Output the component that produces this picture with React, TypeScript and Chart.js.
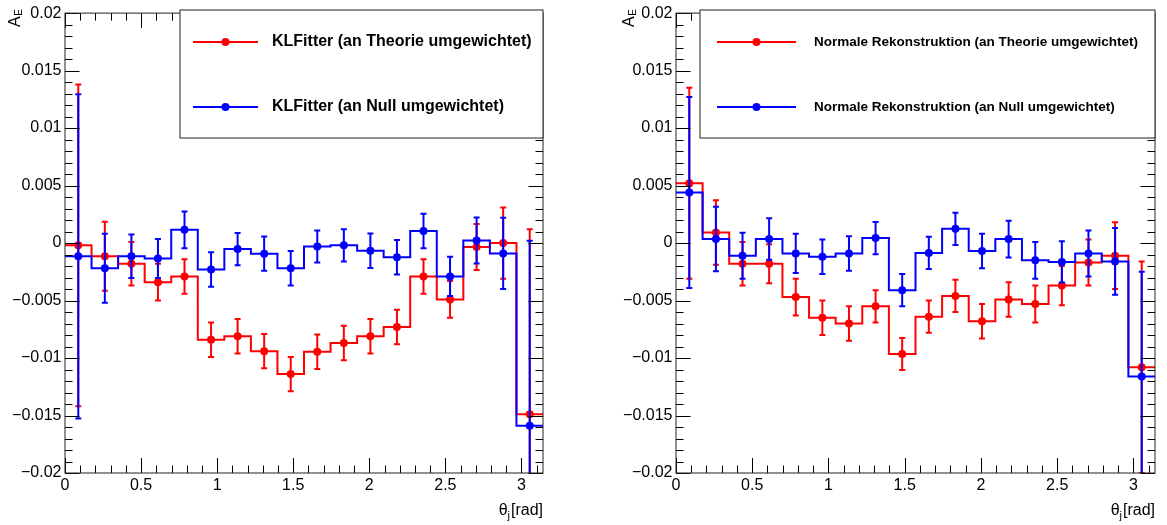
import React, { useEffect, useRef } from "react";
import { Chart, registerables } from "chart.js";

Chart.register(...registerables);

const FONT = '"Liberation Sans", Arial, Helvetica, sans-serif';

// ---- binning (18 equal bins on [0, pi]) ----
const N_BINS = 18;
const X_MIN = 0;
const X_MAX = Math.PI;
const BIN_EDGES = Array.from({ length: N_BINS + 1 }, (_, i) => X_MIN + ((X_MAX - X_MIN) * i) / N_BINS);
const BIN_CENTERS = BIN_EDGES.slice(0, N_BINS).map((e, i) => (e + BIN_EDGES[i + 1]) / 2);

// ---- tick labels ----
const X_TICKS = [0, 0.5, 1, 1.5, 2, 2.5, 3];
const X_TICK_LABELS = ["0", "0.5", "1", "1.5", "2", "2.5", "3"];
const Y_TICKS = [-0.02, -0.015, -0.01, -0.005, 0, 0.005, 0.01, 0.015, 0.02];
const Y_TICK_LABELS = ["\u22120.02", "\u22120.015", "\u22120.01", "\u22120.005", "0", "0.005", "0.01", "0.015", "0.02"];
const Y_MIN = -0.02;
const Y_MAX = 0.02;

// ---- left panel: KLFitter ----
const KLF_THEORIE = [-0.0002, -0.00115, -0.0018, -0.0034, -0.0029, -0.0084, -0.0081, -0.0094, -0.0114, -0.00945, -0.0087, -0.0081, -0.0073, -0.0029, -0.0049, -0.00035, 0.0, -0.0149];
const KLF_THEORIE_ERR = [0.014, 0.003, 0.0019, 0.0016, 0.0015, 0.0015, 0.0015, 0.0015, 0.0015, 0.0015, 0.0015, 0.0015, 0.0015, 0.0015, 0.0016, 0.002, 0.0031, 0.0161];
const KLF_NULL = [-0.00115, -0.0022, -0.00115, -0.00135, 0.00115, -0.0023, -0.00052, -0.00092, -0.0022, -0.0003, -0.0002, -0.00066, -0.00124, 0.00104, -0.0029, 0.00023, -0.0009, -0.0159];
const KLF_NULL_ERR = [0.0141, 0.003, 0.0019, 0.0017, 0.0016, 0.0015, 0.0014, 0.0015, 0.0015, 0.0014, 0.0014, 0.0015, 0.0015, 0.0015, 0.0017, 0.002, 0.0031, 0.0161];

// ---- right panel: Normale Rekonstruktion ----
const NR_THEORIE = [0.0052, 0.00092, -0.0018, -0.0018, -0.0047, -0.0065, -0.007, -0.0055, -0.00965, -0.0064, -0.0046, -0.0068, -0.0049, -0.0053, -0.0037, -0.0017, -0.0011, -0.0108];
const NR_THEORIE_ERR = [0.0083, 0.0028, 0.0019, 0.0017, 0.0016, 0.0015, 0.0015, 0.0014, 0.0014, 0.0014, 0.0014, 0.0015, 0.0015, 0.0016, 0.0017, 0.002, 0.0029, 0.0092];
const NR_NULL = [0.0044, 0.00035, -0.0011, 0.00035, -0.0009, -0.0012, -0.0009, 0.00043, -0.0041, -0.00086, 0.00124, -0.0007, 0.00035, -0.0015, -0.00164, -0.0009, -0.0016, -0.0116];
const NR_NULL_ERR = [0.0083, 0.0028, 0.002, 0.0018, 0.0017, 0.0015, 0.0015, 0.0014, 0.0014, 0.0014, 0.0014, 0.0015, 0.0016, 0.0016, 0.0018, 0.002, 0.0029, 0.0091];

const LEFT_LABELS = ["KLFitter (an Theorie umgewichtet)", "KLFitter (an Null umgewichtet)"];
const RIGHT_LABELS = ["Normale Rekonstruktion (an Theorie umgewichtet)", "Normale Rekonstruktion (an Null umgewichtet)"];

const Y_TITLE = ["A", "E"];
const X_TITLE = ["\u03b8", "j", "[rad]"];

const RED = "#ff0000";
const BLUE = "#0000ff";

type Series = { label: string; values: number[]; errors: number[]; color: string };

type PanelCfg = {
  left: number;
  width: number;
  axisWidth: number;
  padRight: number;
  yTitleX: number;
  legend: { x0: number; x1: number; y0: number; y1: number; lineX0: number; lineX1: number; textX: number; rows: number[]; fontSize: number };
};

const LEFT_CFG: PanelCfg = {
  left: 0,
  width: 583,
  axisWidth: 65,
  padRight: 40,
  yTitleX: 20,
  legend: { x0: 180, x1: 543, y0: 10, y1: 138, lineX0: 193, lineX1: 258, textX: 272, rows: [42, 107], fontSize: 16 },
};

const RIGHT_CFG: PanelCfg = {
  left: 583,
  width: 584,
  axisWidth: 93,
  padRight: 12,
  yTitleX: 51,
  legend: { x0: 117, x1: 572, y0: 10, y1: 138, lineX0: 134, lineX1: 213, textX: 231, rows: [42, 107], fontSize: 13.5 },
};

function Panel({ cfg, series }: { cfg: PanelCfg; series: Series[] }) {
  const ref = useRef<HTMLCanvasElement | null>(null);

  useEffect(() => {
    if (!ref.current) return;
    const datasets: any[] = [];
    [...series].reverse().forEach((s) => {
      datasets.push({
        type: "line",
        label: s.label,
        data: BIN_CENTERS.map((c, i) => ({ x: c, y: s.values[i] })),
        showLine: false,
        pointRadius: 4,
        pointHoverRadius: 4,
        pointBackgroundColor: s.color,
        pointBorderColor: s.color,
        pointBorderWidth: 0,
        errors: s.errors,
        errColor: s.color,
      });
      const step: { x: number; y: number }[] = [];
      s.values.forEach((v, i) => {
        step.push({ x: BIN_EDGES[i], y: v });
        step.push({ x: BIN_EDGES[i + 1], y: v });
      });
      datasets.push({
        type: "line",
        label: s.label + " hist",
        data: step,
        borderColor: s.color,
        borderWidth: 2,
        pointRadius: 0,
        tension: 0,
        fill: false,
        borderJoinStyle: "miter",
      });
    });

    const errorBars = {
      id: "errorBars",
      beforeDatasetDraw(chart: any, args: any) {
        const ds = chart.data.datasets[args.index];
        if (!ds.errors) return;
        const { ctx, chartArea } = chart;
        const ys = chart.scales.y;
        ctx.save();
        ctx.beginPath();
        ctx.rect(chartArea.left, chartArea.top, chartArea.right - chartArea.left, chartArea.bottom - chartArea.top);
        ctx.clip();
        ctx.strokeStyle = ds.errColor;
        ctx.lineWidth = 2;
        args.meta.data.forEach((el: any, i: number) => {
          const v = ds.data[i].y;
          const e = ds.errors[i];
          const yt = ys.getPixelForValue(v + e);
          const yb = ys.getPixelForValue(v - e);
          ctx.beginPath();
          ctx.moveTo(el.x, yt);
          ctx.lineTo(el.x, yb);
          ctx.moveTo(el.x - 3, yt);
          ctx.lineTo(el.x + 3, yt);
          ctx.moveTo(el.x - 3, yb);
          ctx.lineTo(el.x + 3, yb);
          ctx.stroke();
        });
        ctx.restore();
      },
    };

    const decor = {
      id: "decor",
      afterDraw(chart: any) {
        const { ctx, chartArea } = chart;
        const xs = chart.scales.x;
        const ys = chart.scales.y;
        const { left, right, top, bottom } = chartArea;
        ctx.save();
        // ticks
        ctx.strokeStyle = "#000";
        ctx.lineWidth = 1;
        ctx.beginPath();
        for (let k = 0; k <= 31; k++) {
          const px = Math.round(xs.getPixelForValue(k / 10)) + 0.5;
          const len = k % 5 === 0 ? 15 : 7.5;
          ctx.moveTo(px, bottom);
          ctx.lineTo(px, bottom - len);
          ctx.moveTo(px, top);
          ctx.lineTo(px, top + len);
        }
        for (let k = -20; k <= 20; k++) {
          const py = Math.round(ys.getPixelForValue(k / 1000)) + 0.5;
          const len = k % 5 === 0 ? 14.5 : 7.5;
          ctx.moveTo(left, py);
          ctx.lineTo(left + len, py);
          ctx.moveTo(right, py);
          ctx.lineTo(right - len, py);
        }
        ctx.stroke();
        // frame
        ctx.strokeStyle = "#222";
        ctx.strokeRect(left, top, right - left, bottom - top);

        // legend
        const L = cfg.legend;
        ctx.fillStyle = "#fff";
        ctx.fillRect(L.x0, L.y0, L.x1 - L.x0, L.y1 - L.y0);
        ctx.strokeStyle = "#222";
        ctx.strokeRect(L.x0, L.y0, L.x1 - L.x0, L.y1 - L.y0);
        series.forEach((s, i) => {
          const yy = L.rows[i];
          ctx.strokeStyle = s.color;
          ctx.lineWidth = 2;
          ctx.beginPath();
          ctx.moveTo(L.lineX0, yy);
          ctx.lineTo(L.lineX1, yy);
          ctx.stroke();
          ctx.fillStyle = s.color;
          ctx.beginPath();
          ctx.arc((L.lineX0 + L.lineX1) / 2, yy, 4, 0, Math.PI * 2);
          ctx.fill();
          ctx.fillStyle = "#000";
          ctx.font = `bold ${L.fontSize}px ${FONT}`;
          ctx.textAlign = "left";
          ctx.textBaseline = "middle";
          ctx.fillText(s.label, L.textX, yy);
        });

        // x title
        ctx.fillStyle = "#000";
        ctx.textBaseline = "alphabetic";
        ctx.textAlign = "left";
        const big = `16px ${FONT}`;
        const small = `11px ${FONT}`;
        ctx.font = big;
        const w0 = ctx.measureText(X_TITLE[0]).width;
        const w2 = ctx.measureText(X_TITLE[2]).width;
        ctx.font = small;
        const w1 = ctx.measureText(X_TITLE[1]).width;
        let x0 = right - (w0 + w1 + w2 + 1);
        const base = 515;
        ctx.font = big;
        ctx.fillText(X_TITLE[0], x0, base);
        x0 += w0;
        ctx.font = small;
        ctx.fillText(X_TITLE[1], x0, base + 4);
        x0 += w1 + 1;
        ctx.font = big;
        ctx.fillText(X_TITLE[2], x0, base);

        // y title (rotated)
        ctx.save();
        ctx.translate(cfg.yTitleX, 27);
        ctx.rotate(-Math.PI / 2);
        ctx.font = big;
        ctx.fillText(Y_TITLE[0], 0, 0);
        const wa = ctx.measureText(Y_TITLE[0]).width;
        ctx.font = `10px ${FONT}`;
        ctx.fillText(Y_TITLE[1], wa + 0.5, 2);
        ctx.restore();

        ctx.restore();
      },
    };

    const chart = new Chart(ref.current, {
      type: "line",
      data: { datasets },
      plugins: [errorBars, decor],
      options: {
        responsive: false,
        animation: false,
        devicePixelRatio: 1,
        events: [],
        layout: { padding: { top: 10, right: cfg.padRight, left: 0, bottom: 0 } },
        plugins: { legend: { display: false }, tooltip: { enabled: false } },
        scales: {
          x: {
            type: "linear",
            min: X_MIN,
            max: X_MAX,
            grid: { display: false, drawTicks: false },
            border: { display: false },
            afterBuildTicks: (s: any) => {
              s.ticks = X_TICKS.map((v) => ({ value: v }));
            },
            afterFit: (s: any) => {
              s.height = 52;
            },
            ticks: {
              autoSkip: false,
              maxRotation: 0,
              padding: 3,
              color: "#000",
              font: { family: FONT, size: 16 },
              callback: (_v: any, i: number) => X_TICK_LABELS[i],
            },
          },
          y: {
            type: "linear",
            min: Y_MIN,
            max: Y_MAX,
            grid: { display: false, drawTicks: false },
            border: { display: false },
            afterBuildTicks: (s: any) => {
              s.ticks = Y_TICKS.map((v) => ({ value: v }));
            },
            afterFit: (s: any) => {
              s.width = cfg.axisWidth;
            },
            ticks: {
              autoSkip: false,
              padding: 3.5,
              color: "#000",
              font: { family: FONT, size: 16 },
              callback: (_v: any, i: number) => Y_TICK_LABELS[i],
            },
          },
        },
      } as any,
    });
    return () => chart.destroy();
  }, []);

  return (
    <canvas
      ref={ref}
      width={cfg.width}
      height={525}
      style={{ position: "absolute", left: cfg.left, top: 0, width: cfg.width, height: 525 }}
    />
  );
}

export default function App() {
  const leftSeries: Series[] = [
    { label: LEFT_LABELS[0], values: KLF_THEORIE, errors: KLF_THEORIE_ERR, color: RED },
    { label: LEFT_LABELS[1], values: KLF_NULL, errors: KLF_NULL_ERR, color: BLUE },
  ];
  const rightSeries: Series[] = [
    { label: RIGHT_LABELS[0], values: NR_THEORIE, errors: NR_THEORIE_ERR, color: RED },
    { label: RIGHT_LABELS[1], values: NR_NULL, errors: NR_NULL_ERR, color: BLUE },
  ];
  return (
    <div style={{ position: "absolute", left: 0, top: 0, width: 1167, height: 525, background: "#fff" }}>
      <Panel cfg={LEFT_CFG} series={leftSeries} />
      <Panel cfg={RIGHT_CFG} series={rightSeries} />
    </div>
  );
}
